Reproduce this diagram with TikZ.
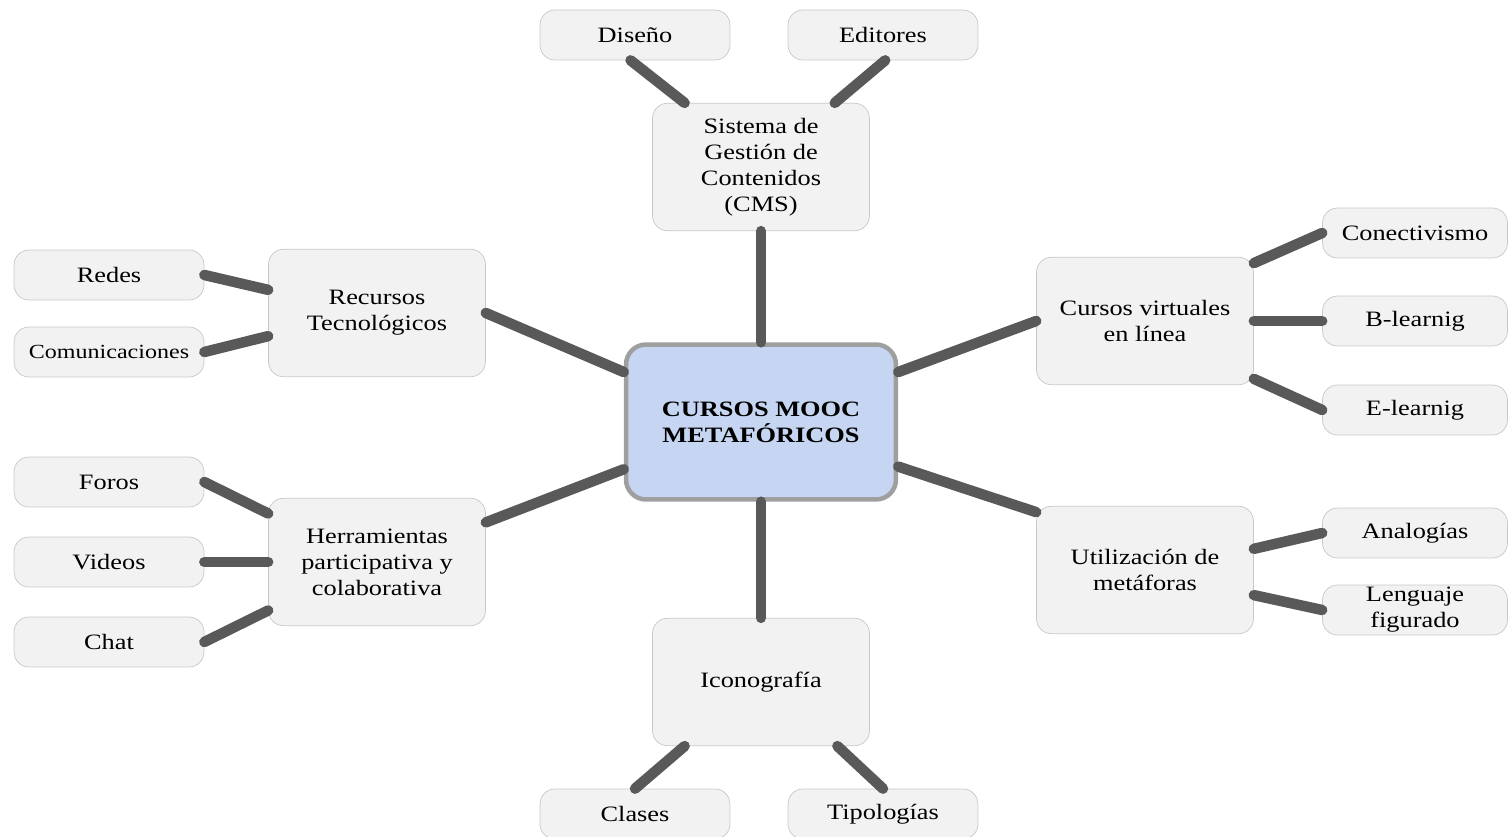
\documentclass[tikz,border=0pt]{standalone}
\usepackage{fontspec}
\setmainfont{Liberation Serif}[FakeStretch=1.2]
\definecolor{boxfill}{HTML}{F2F2F2}
\definecolor{boxline}{HTML}{C8C8C8}
\definecolor{moocfill}{HTML}{C6D6F2}
\definecolor{linkgray}{HTML}{595959}
\begin{document}
\begin{tikzpicture}[x=0.02cm,y=-0.02cm]
        \tikzstyle{leaf}=[rectangle,rounded corners=0.3cm,draw=boxline,fill=boxfill,minimum width=3.8cm,minimum height=1cm,font=\fontsize{12.5}{14.8}\selectfont,align=center,inner sep=1pt]
        \tikzstyle{topic}=[leaf,minimum width=4.34cm,minimum height=2.55cm]
        \tikzstyle{mooc}=[rectangle,rounded corners=0.4cm,draw=gray!75,line width=0.09cm,fill=moocfill,minimum width=5.4cm,minimum height=3.1cm,font=\fontsize{12.5}{14.8}\selectfont\bfseries,align=center]
        \tikzstyle{edge}=[draw=linkgray,line width=0.21cm,line cap=round]
        \useasboundingbox (0,0) rectangle (1508,837);
       \begin{scope}
         % centre and main topics
         \node [mooc] (mooc) at (761,422) {CURSOS MOOC\\METAFÓRICOS};
         \node [topic] (cms) at (761,167) {Sistema de\\Gestión de\\Contenidos\\(CMS)};
         \node [topic] (recursos) at (377,313) {Recursos\\Tecnológicos};
         \node [topic] (herram) at (377,562) {Herramientas\\participativa y\\colaborativa};
         \node [topic] (cursos) at (1145,321) {Cursos virtuales\\en línea};
         \node [topic] (metaf) at (1145,570) {Utilización de\\metáforas};
         \node [topic] (icono) at (761,682) {Iconografía};
         % leaves
         \node [leaf] (diseno) at (635,35) {Diseño};
         \node [leaf] (editores) at (883,35) {Editores};
         \node [leaf] (redes) at (109,275) {Redes};
         \node [leaf,font=\fontsize{11.4}{13.5}\selectfont] (comunic) at (109,352) {Comunicaciones};
         \node [leaf] (foros) at (109,482) {Foros};
         \node [leaf] (videos) at (109,562) {Videos};
         \node [leaf] (chat) at (109,642) {Chat};
         \node [leaf,minimum width=3.7cm] (conect) at (1415,233) {Conectivismo};
         \node [leaf,minimum width=3.7cm] (blearn) at (1415,321) {B-learnig};
         \node [leaf,minimum width=3.7cm] (elearn) at (1415,410) {E-learnig};
         \node [leaf,minimum width=3.7cm] (analog) at (1415,533) {Analogías};
         \node [leaf,minimum width=3.7cm] (lengua) at (1415,610) {Lenguaje\\figurado};
         \node [leaf] (clases) at (635,814) {Clases};
         \node [leaf] (tipolog) at (883,814) {Tipologías};
         % connectors
         \path[edge] (cms.south) edge (mooc.north);
         \path[edge] (icono.north) edge (mooc.south);
         \path[edge] (recursos.east) edge (mooc.160);
         \path[edge] (herram.20) edge (mooc.199);
         \path[edge] (cursos.west) edge (mooc.20);
         \path[edge] (metaf.152) edge (mooc.342);
         \path[edge] (diseno.260) edge (cms.140);
         \path[edge] (editores.275) edge (cms.41);
         \path[edge] (redes.east) edge (recursos.168);
         \path[edge] (comunic.east) edge (recursos.192);
         \path[edge] (foros.east) edge (herram.156);
         \path[edge] (videos.east) edge (herram.west);
         \path[edge] (chat.east) edge (herram.204);
         \path[edge] (cursos.28) edge (conect.west);
         \path[edge] (cursos.east) edge (blearn.west);
         \path[edge] (cursos.332) edge (elearn.west);
         \path[edge] (metaf.11) edge (analog.west);
         \path[edge] (metaf.347) edge (lengua.west);
         \path[edge] (icono.220) edge (clases.north);
         \path[edge] (icono.320) edge (tipolog.north);
        \end{scope}
      \end{tikzpicture}
\end{document}
